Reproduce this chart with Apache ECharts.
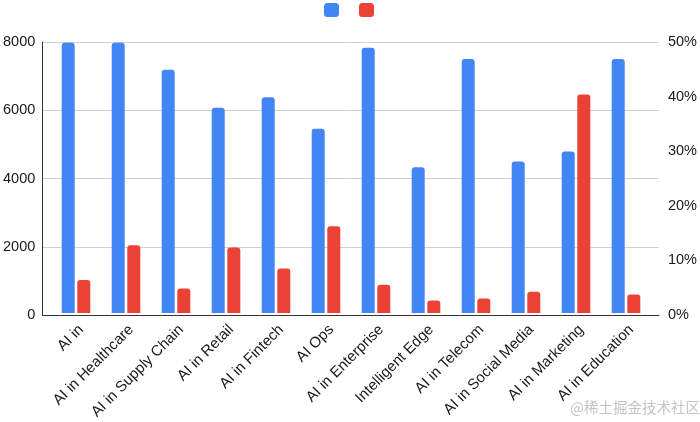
<!DOCTYPE html>
<html>
<head>
<meta charset="utf-8">
<script src="https://cdn.jsdelivr.net/npm/echarts@6/dist/echarts.min.js"></script>
<style>html,body{margin:0;padding:0;background:#fff}#c{width:700px;height:422px}</style>
</head>
<body>
<div id="c"></div>
<script>
const categories = ['AI in','AI in Healthcare','AI in Supply Chain','AI in Retail','AI in Fintech','AI Ops','AI in Enterprise','Intelligent Edge','AI in Telecom','AI in Social Media','AI in Marketing','AI in Education'];
const countValues = [7980, 7980, 7180, 6060, 6370, 5440, 7830, 4300, 7500, 4470, 4770, 7500];
const shareValues = [6.1, 12.5, 4.5, 12.1, 8.2, 16.0, 5.2, 2.3, 2.7, 3.9, 40.3, 3.4];
const leftTicks = {min: 0, max: 8000, interval: 2000};
const rightTicks = {min: 0, max: 50, interval: 10};
const watermark = '@稀土掘金技术社区';

const FONT = '"Liberation Sans", Arial, sans-serif';
const chart = echarts.init(document.getElementById('c'), null, {renderer: 'canvas'});
chart.setOption({
  animation: false,
  backgroundColor: '#fff',
  legend: {
    left: 319, top: -2,
    itemWidth: 15, itemHeight: 14, itemGap: 20,
    icon: 'roundRect',
    formatter: () => '',
    selectedMode: false,
    data: ['Count', 'Share']
  },
  grid: [
    {left: 41, right: 41, top: 42, bottom: 107, containLabel: false},
    {left: 51, right: 49, top: 42, bottom: 107, containLabel: false}
  ],
  xAxis: [
    {gridIndex: 0, type: 'value', min: 0, max: 1,
     axisLine: {show: true, lineStyle: {color: '#333', width: 1}},
     axisTick: {show: false}, axisLabel: {show: false}, splitLine: {show: false}},
    {gridIndex: 1, type: 'category', data: categories,
     axisLine: {show: false}, axisTick: {show: false},
     axisLabel: {rotate: 45, interval: 0, margin: 9, verticalAlign: 'top', fontFamily: FONT, fontSize: 15, color: '#1a1a1a'}}
  ],
  yAxis: [
    {gridIndex: 0, type: 'value', position: 'left', min: leftTicks.min, max: leftTicks.max, interval: leftTicks.interval,
     axisLine: {show: true, lineStyle: {color: '#333', width: 1}},
     axisTick: {show: false},
     axisLabel: {margin: 7, fontFamily: FONT, fontSize: 14.5, color: '#1a1a1a', formatter: v => String(v)},
     splitLine: {show: true, lineStyle: {color: '#d0d0d0', width: 1}}},
    {gridIndex: 0, type: 'value', position: 'right', min: rightTicks.min, max: rightTicks.max, interval: rightTicks.interval,
     axisLine: {show: false}, axisTick: {show: false},
     axisLabel: {margin: 9, fontFamily: FONT, fontSize: 14.5, color: '#1a1a1a', formatter: '{value}%'},
     splitLine: {show: false}},
    {gridIndex: 1, type: 'value', min: leftTicks.min, max: leftTicks.max, show: false, splitLine: {show: false}},
    {gridIndex: 1, type: 'value', min: rightTicks.min, max: rightTicks.max, show: false, splitLine: {show: false}}
  ],
  series: [
    {name: 'Count', type: 'bar', xAxisIndex: 1, yAxisIndex: 2, data: countValues,
     barWidth: 13, barGap: '20%',
     itemStyle: {color: '#4285F4', borderRadius: [3, 3, 0, 0]}},
    {name: 'Share', type: 'bar', xAxisIndex: 1, yAxisIndex: 3, data: shareValues,
     barWidth: 13, barGap: '20%',
     itemStyle: {color: '#EA4335', borderRadius: [3, 3, 0, 0]}}
  ],
  graphic: [
    {type: 'text', right: 0, top: 400,
     style: {text: watermark, fill: '#c4c4c4', font: '14.5px "Noto Sans CJK SC", sans-serif'}}
  ]
});
</script>
</body>
</html>
